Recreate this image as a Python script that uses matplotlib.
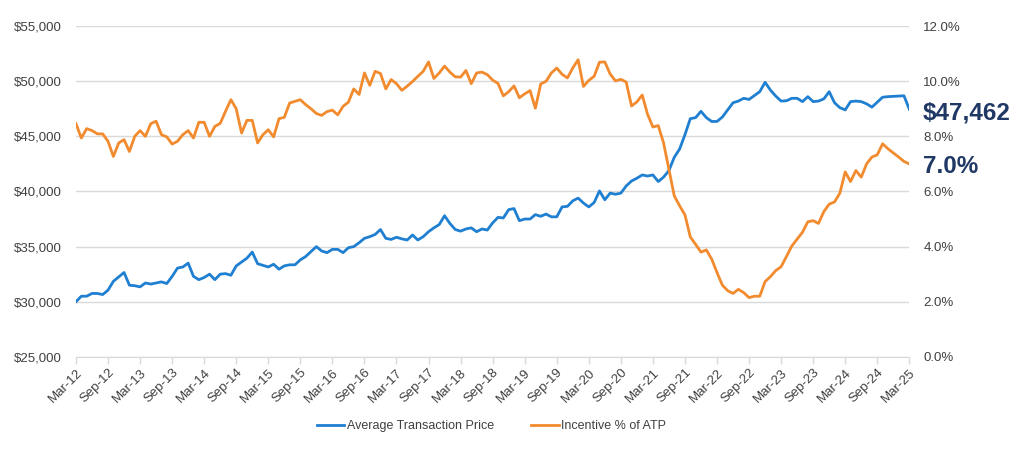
import matplotlib
matplotlib.use("Agg")
import matplotlib.pyplot as plt
import pandas as pd
from matplotlib.ticker import FuncFormatter, MultipleLocator

plt.rcParams["font.family"] = ["Liberation Sans", "DejaVu Sans"]

# monthly, Mar-2012 .. Mar-2025
months = pd.date_range("2012-03-01", "2025-03-01", freq="MS")

atp = [
    30000, 30500, 30500, 30750, 30750, 30650, 31050, 31850, 32250, 32650,
    31500, 31450, 31350, 31700, 31600, 31700, 31800, 31650, 32300, 33050,
    33150, 33500, 32300, 32000, 32200, 32500, 32000, 32500, 32550, 32400,
    33250, 33600, 33950, 34500, 33450, 33300, 33150, 33400, 32950, 33250,
    33350, 33350, 33800, 34100, 34550, 35000, 34600, 34450, 34750, 34750,
    34450, 34900, 35000, 35350, 35750, 35900, 36100, 36550, 35750, 35650,
    35850, 35700, 35600, 36050, 35600, 35900, 36350, 36700, 37000, 37800,
    37100, 36550, 36400, 36600, 36700, 36350, 36600, 36500, 37150, 37650,
    37600, 38350, 38450, 37350, 37500, 37500, 37900, 37750, 37950, 37700,
    37700, 38600, 38650, 39150, 39400, 38950, 38600, 39000, 40050, 39250,
    39850, 39750, 39850, 40500, 40950, 41200, 41500, 41400, 41500, 40900,
    41300, 41900, 43100, 43850, 45150, 46600, 46700, 47270, 46700, 46350,
    46350, 46750, 47400, 48050, 48200, 48450, 48350, 48700, 49050, 49900,
    49200, 48650, 48200, 48230, 48450, 48450, 48150, 48600, 48150, 48200,
    48400, 49050, 48050, 47600, 47400, 48150, 48200, 48150, 47950, 47650,
    48100, 48550, 48600, 48630, 48650, 48680, 47462,
]

incentive_pct = [
    8.46, 7.94, 8.28, 8.21, 8.09, 8.09, 7.82, 7.27, 7.76, 7.88,
    7.45, 8.00, 8.21, 8.00, 8.46, 8.55, 8.06, 7.98, 7.72, 7.82,
    8.06, 8.21, 7.94, 8.51, 8.51, 8.00, 8.36, 8.47, 8.91, 9.33,
    9.00, 8.12, 8.58, 8.58, 7.76, 8.06, 8.24, 7.98, 8.64, 8.69,
    9.21, 9.27, 9.33, 9.15, 9.00, 8.83, 8.76, 8.90, 8.95, 8.78,
    9.09, 9.24, 9.72, 9.52, 10.30, 9.85, 10.36, 10.28, 9.72, 10.06,
    9.91, 9.67, 9.82, 9.99, 10.18, 10.36, 10.70, 10.10, 10.30, 10.55,
    10.33, 10.16, 10.15, 10.39, 9.91, 10.30, 10.33, 10.24, 10.04, 9.92,
    9.47, 9.62, 9.83, 9.40, 9.54, 9.66, 9.02, 9.90, 10.00, 10.30,
    10.48, 10.25, 10.12, 10.48, 10.78, 9.81, 10.03, 10.18, 10.69, 10.70,
    10.26, 10.01, 10.07, 9.97, 9.10, 9.25, 9.50, 8.80, 8.34, 8.39,
    7.76, 6.79, 5.84, 5.48, 5.15, 4.35, 4.08, 3.80, 3.88, 3.55,
    3.06, 2.60, 2.40, 2.30, 2.45, 2.33, 2.15, 2.20, 2.20, 2.73,
    2.91, 3.13, 3.27, 3.64, 4.02, 4.27, 4.52, 4.90, 4.94, 4.84,
    5.27, 5.54, 5.62, 5.94, 6.71, 6.36, 6.76, 6.52, 7.00, 7.25,
    7.33, 7.73, 7.55, 7.40, 7.25, 7.09, 7.00,
]

atp_label = "$47,462"
pct_label = "7.0%"

BLUE = "#1f7fd1"
ORANGE = "#f28a2e"
GRID = "#d9d9d9"
TXT = "#404040"
NAVY = "#203864"

fig = plt.figure(figsize=(10.24, 4.5), dpi=100)
ax = fig.add_axes([0.0742, 0.207, 0.8138, 0.735])
ax2 = ax.twinx()

x = list(range(len(months)))
l1, = ax.plot(x, atp, color=BLUE, lw=2.0, label="Average Transaction Price")
l2, = ax2.plot(x, incentive_pct, color=ORANGE, lw=2.0, label="Incentive % of ATP")

ax.set_xlim(0, len(months) - 1)
ax.set_ylim(25000, 55000)
ax2.set_ylim(0, 12)
ax.yaxis.set_major_locator(MultipleLocator(5000))
ax2.yaxis.set_major_locator(MultipleLocator(2))
ax.yaxis.set_major_formatter(FuncFormatter(lambda v, _: f"${v:,.0f}"))
ax2.yaxis.set_major_formatter(FuncFormatter(lambda v, _: f"{v:.1f}%"))

ax.grid(axis="y", color=GRID, lw=1)
ax.set_axisbelow(True)

tick_pos = x[::6]
ax.set_xticks(tick_pos)
ax.set_xticklabels([months[i].strftime("%b-%y") for i in tick_pos],
                   rotation=45, ha="right", rotation_mode="anchor")

for a in (ax, ax2):
    for s in a.spines.values():
        s.set_visible(False)
ax.spines["bottom"].set_visible(True)
ax.spines["bottom"].set_color(GRID)

ax.tick_params(axis="x", colors=GRID, length=5, width=1, labelcolor=TXT,
               labelsize=9.5, pad=2)
ax.tick_params(axis="y", length=0, labelcolor=TXT, labelsize=9.5, pad=10)
ax2.tick_params(axis="y", length=0, labelcolor=TXT, labelsize=9.5, pad=10)

fig.legend(handles=[l1, l2], loc="lower center", bbox_to_anchor=(0.48, 0.015),
           ncol=2, frameon=False, fontsize=9, handlelength=2.2,
           handletextpad=0.2, columnspacing=3.0, labelcolor=TXT)

fig.text(0.901, 0.748, atp_label, color=NAVY, fontsize=17.5, fontweight="bold",
         va="center", ha="left")
fig.text(0.901, 0.63, pct_label, color=NAVY, fontsize=17.5, fontweight="bold",
         va="center", ha="left")

fig.savefig("out.png", dpi=100)
